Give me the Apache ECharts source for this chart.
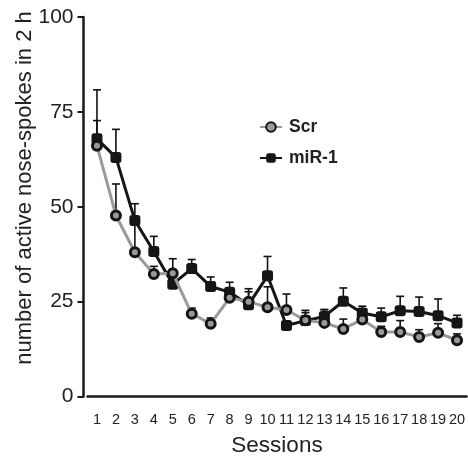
<!DOCTYPE html>
<html>
<head>
<meta charset="utf-8">
<script src="https://cdn.jsdelivr.net/npm/echarts@6/dist/echarts.min.js"></script>
<style>html,body{margin:0;padding:0;background:#fff}#c{width:468px;height:463px}</style>
</head>
<body>
<div id="c"></div>
<script>
var sessions = ['1','2','3','4','5','6','7','8','9','10','11','12','13','14','15','16','17','18','19','20'];
var yTicks = [0, 25, 50, 75, 100];
var scrMean = [66.1, 47.7, 38.0, 32.3, 32.5, 21.8, 19.2, 26.0, 25.0, 23.5, 22.8, 20.1, 19.4, 17.8, 20.3, 17.0, 17.0, 15.7, 16.8, 14.8];
var scrErr  = [6.6, 8.3, 8.5, 2.0, 3.8, 1.5, 1.5, 1.5, 2.6, 5.4, 4.2, 2.0, 3.5, 2.6, 1.5, 1.5, 3.0, 1.9, 2.4, 1.7];
var mirMean = [67.9, 63.0, 46.4, 38.2, 29.6, 33.7, 29.0, 27.5, 24.2, 31.8, 18.7, 20.0, 21.1, 25.1, 22.0, 21.0, 22.6, 22.4, 21.3, 19.4];
var mirErr  = [12.9, 7.4, 4.4, 4.0, 1.0, 2.4, 2.5, 2.6, 4.2, 5.1, 1.0, 2.7, 1.8, 3.5, 1.8, 2.3, 3.8, 3.8, 4.4, 2.0];
var yTitle = 'number of active nose-spokes in 2 h';
var xTitle = 'Sessions';

var FONT = 'Arial, "Liberation Sans", sans-serif';

function errData(mean, err) {
  return mean.map(function (m, i) { return [i, m, m + err[i]]; });
}
function errRender(params, api) {
  var x = api.value(0);
  var lo = api.coord([x, api.value(1)]);
  var hi = api.coord([x, api.value(2)]);
  var st = { stroke: '#111', lineWidth: 1.6 };
  return {
    type: 'group',
    children: [
      { type: 'line', shape: { x1: lo[0], y1: lo[1], x2: hi[0], y2: hi[1] }, style: st },
      { type: 'line', shape: { x1: hi[0] - 4, y1: hi[1], x2: hi[0] + 4, y2: hi[1] }, style: st }
    ]
  };
}

var chart = echarts.init(document.getElementById('c'), null, { renderer: 'canvas' });
chart.setOption({
  animation: false,
  backgroundColor: '#fff',
  textStyle: { fontFamily: FONT },
  grid: { left: 87.5, right: 1.5, top: 17, bottom: 66.5, containLabel: false, outerBoundsMode: 'none' },
  graphic: [{
    type: 'text',
    x: 25, y: 188,
    rotation: Math.PI / 2,
    style: { text: yTitle, fontSize: 22, fill: '#222', fontFamily: FONT, align: 'center', verticalAlign: 'middle' }
  }],
  legend: {
    orient: 'vertical',
    left: 254,
    top: 113,
    itemGap: 13,
    itemWidth: 22,
    itemHeight: 12,
    data: ['Scr', 'miR-1'],
    textStyle: { fontSize: 17.5, fontWeight: 'bold', color: '#222', fontFamily: FONT, lineHeight: 18, padding: [0, 0, 0, 2] }
  },
  xAxis: {
    type: 'category',
    data: sessions,
    boundaryGap: true,
    name: xTitle,
    nameLocation: 'middle',
    nameGap: 38,
    nameTextStyle: { fontSize: 22.5, color: '#222' },
    axisLine: { lineStyle: { color: '#1a1a1a', width: 2.5 } },
    axisTick: { alignWithLabel: true, length: 6, lineStyle: { color: '#1a1a1a', width: 2 } },
    axisLabel: { fontSize: 14.5, color: '#222', margin: 16, interval: 0 },
    splitLine: { show: false }
  },
  yAxis: {
    type: 'value',
    min: 0,
    max: 100,
    interval: 25,
    offset: 4,
    axisLine: { show: true, lineStyle: { color: '#1a1a1a', width: 2.5 } },
    axisTick: { show: true, length: 6, lineStyle: { color: '#1a1a1a', width: 2 } },
    axisLabel: { fontSize: 21, color: '#222', margin: 10,
      formatter: function (v) { return yTicks.indexOf(v) >= 0 ? String(v) : ''; } },
    splitLine: { show: false }
  },
  series: [
    {
      type: 'custom', name: 'errMir', renderItem: errRender, data: errData(mirMean, mirErr),
      z: 1, silent: true, encode: { x: 0, y: [1, 2] }
    },
    {
      type: 'custom', name: 'errScr', renderItem: errRender, data: errData(scrMean, scrErr),
      z: 1, silent: true, encode: { x: 0, y: [1, 2] }
    },
    {
      name: 'miR-1', type: 'line', data: mirMean, z: 3,
      symbol: 'roundRect', symbolSize: 11,
      lineStyle: { color: '#151515', width: 3 },
      itemStyle: { color: '#151515', borderColor: '#151515', borderWidth: 0 }
    },
    {
      name: 'Scr', type: 'line', data: scrMean, z: 4,
      symbol: 'circle', symbolSize: 9,
      lineStyle: { color: '#9a9a9a', width: 3 },
      itemStyle: { color: '#9a9a9a', borderColor: '#151515', borderWidth: 3 }
    }
  ]
});
</script>
</body>
</html>
